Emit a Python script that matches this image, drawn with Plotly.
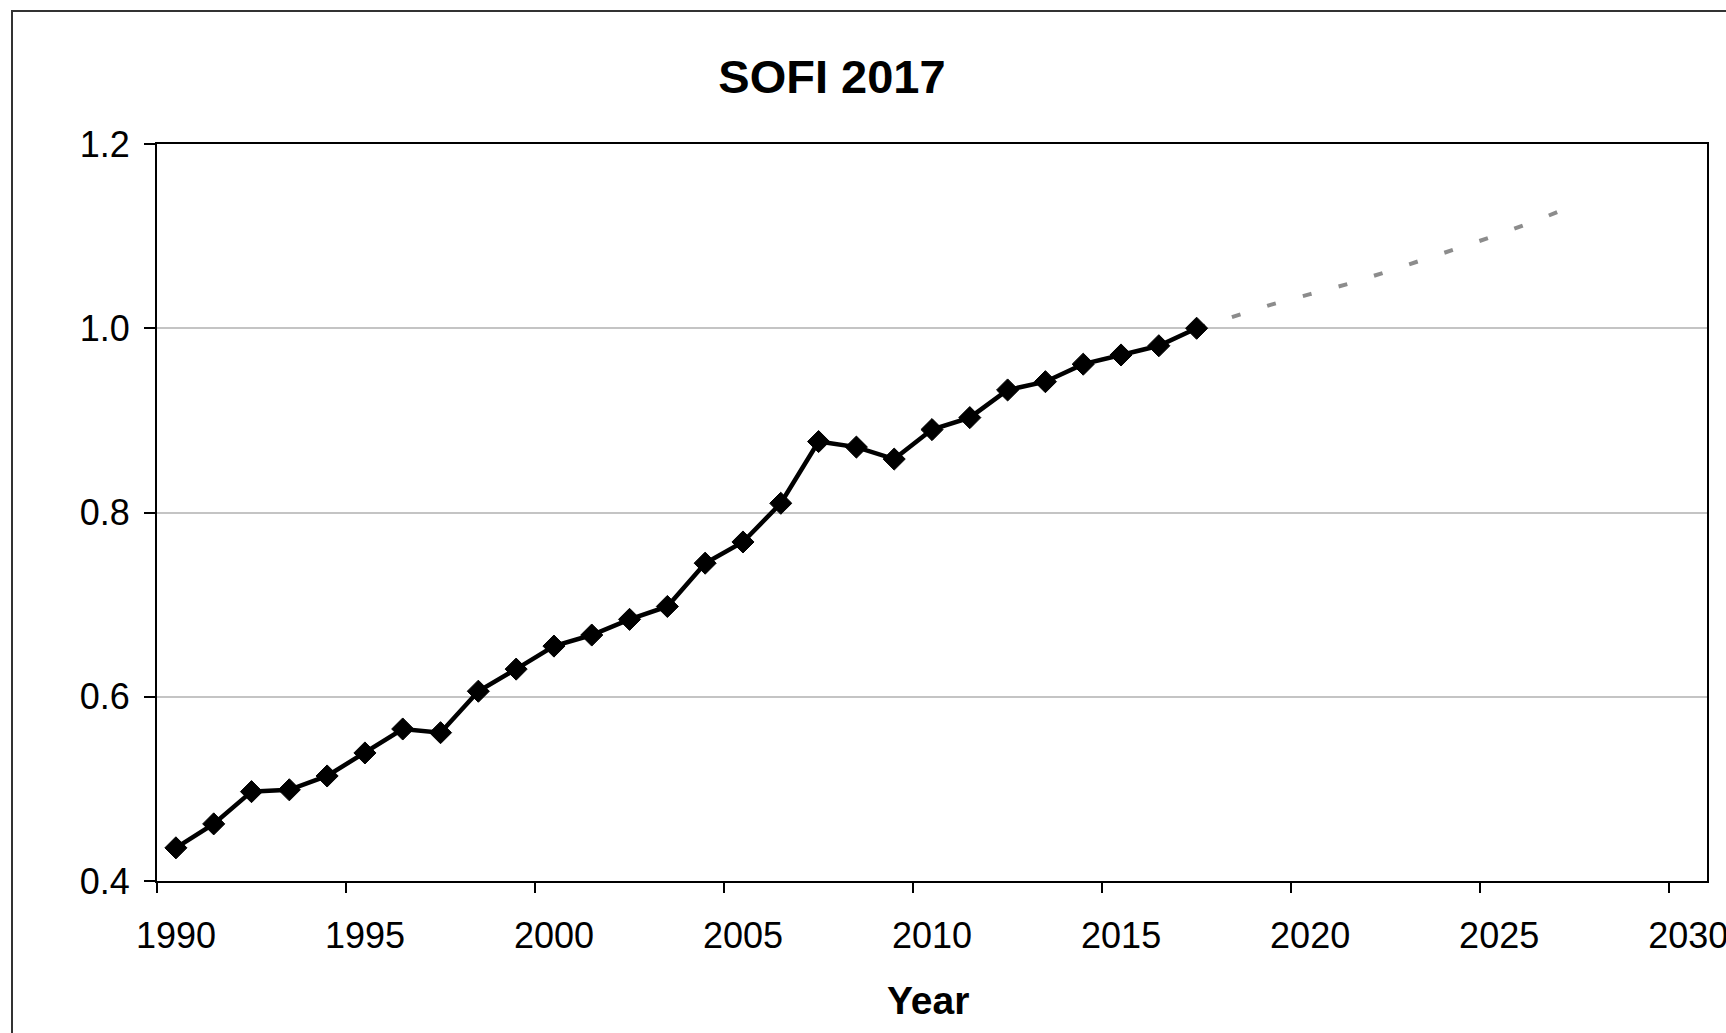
import plotly.graph_objects as go

# ---- data ----
years = list(range(1990, 2018))
sofi_values = [0.436, 0.462, 0.497, 0.499, 0.514, 0.539, 0.565, 0.561, 0.606, 0.630,
               0.655, 0.667, 0.684, 0.698, 0.745, 0.768, 0.810, 0.877, 0.871, 0.858,
               0.890, 0.903, 0.933, 0.942, 0.961, 0.971, 0.981, 1.000]
proj_years = list(range(2017, 2028))
proj_values = [1.000, 1.013, 1.026, 1.037, 1.048, 1.061, 1.074, 1.088, 1.102, 1.117, 1.134]
x_ticks = [1990, 1995, 2000, 2005, 2010, 2015, 2020, 2025, 2030]
y_ticks = [0.4, 0.6, 0.8, 1.0, 1.2]
title_text = "SOFI 2017"
x_title = "Year"

# values are plotted at mid-year
x_main = [y + 0.5 for y in years]
x_proj = [y + 0.5 for y in proj_years]

FONT = "Liberation Sans, Arial, sans-serif"

fig = go.Figure()
fig.add_trace(go.Scatter(
    x=x_proj, y=proj_values, mode="lines",
    line=dict(color="#8c8c8c", width=4, dash="9px,28px"),
    hoverinfo="skip", showlegend=False,
))
fig.add_trace(go.Scatter(
    x=x_main, y=sofi_values, mode="lines+markers",
    line=dict(color="black", width=4.5),
    marker=dict(symbol="diamond", size=17, color="black", line=dict(color="black", width=1)),
    showlegend=False,
))

W, H = 1726, 1033
ml, mr, mt, mb = 157, 19, 144, 152
pw = W - ml - mr
ph = H - mt - mb

def px_to_paper_x(px):
    return (px - ml) / pw

def px_to_paper_y(py):
    return (H - mb - py) / ph

fig.update_layout(
    width=W, height=H, autosize=False,
    margin=dict(l=ml, r=mr, t=mt, b=mb, pad=0, autoexpand=False),
    paper_bgcolor="white", plot_bgcolor="white",
    font=dict(family=FONT, color="black"),
    title=dict(text="<b>" + title_text + "</b>", font=dict(size=47, family=FONT, color="black"),
               xref="container", yref="container", x=832 / W, y=1 - 77 / H,
               xanchor="center", yanchor="middle"),
    xaxis=dict(range=[1990, 2031], tickvals=x_ticks, ticktext=[str(v) for v in x_ticks],
               ticks="outside", ticklen=10, tickwidth=2, tickcolor="black",
               showline=True, linecolor="black", linewidth=2, mirror=True,
               showgrid=False, zeroline=False, automargin=False,
               tickfont=dict(size=36, family=FONT, color="black"),
               ticklabelshift=19, ticklabelstandoff=12, ticklabeloverflow="allow"),
    yaxis=dict(range=[0.4, 1.2], tickvals=y_ticks, tickformat=".1f",
               ticks="outside", ticklen=11, tickwidth=2, tickcolor="black",
               showline=True, linecolor="black", linewidth=2, mirror=True,
               showgrid=True, gridcolor="#c4c4c4", gridwidth=2, zeroline=False,
               automargin=False,
               tickfont=dict(size=36, family=FONT, color="black"),
               ticklabelstandoff=7),
    annotations=[dict(text="<b>" + x_title + "</b>", xref="paper", yref="paper",
                      x=px_to_paper_x(928), y=px_to_paper_y(1000),
                      xanchor="center", yanchor="middle", showarrow=False,
                      font=dict(size=39, family=FONT, color="black"))],
    shapes=[dict(type="rect", xref="paper", yref="paper",
                 x0=px_to_paper_x(12), y0=px_to_paper_y(1100),
                 x1=px_to_paper_x(1800), y1=px_to_paper_y(11),
                 line=dict(color="#333333", width=2), layer="below")],
)

fig.write_html("out.html", config={"displayModeBar": False},
               post_script="document.body.style.margin='0px';document.body.style.overflow='hidden';")
